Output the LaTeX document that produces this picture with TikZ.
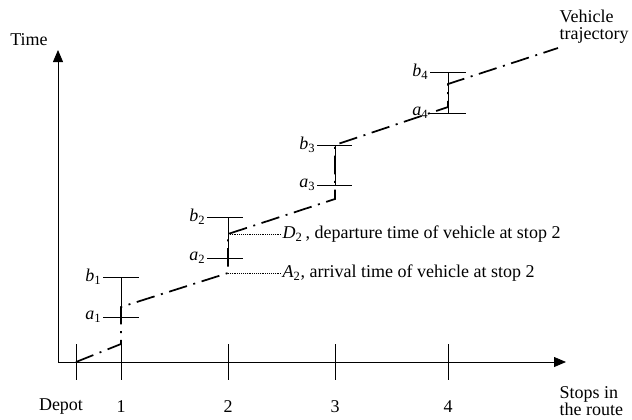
\documentclass[tikz,border=0pt]{standalone}
\usepackage{fontspec}
\setmainfont{Liberation Serif}
\usetikzlibrary{arrows.meta}
\newcommand\tv[2]{\textit{#1}\textsubscript{#2}}

\begin{document}
\begin{tikzpicture}[x=0.75pt, y=-0.75pt,
        axis/.style={-{Triangle[length=9pt,width=7.5pt]}, semithick},
        traj/.style={line width=1.3pt, dash pattern=on 14pt off 5pt on 1.5pt off 5pt},
        bar/.style={semithick},
        lead/.style={densely dotted, thin},
        lbl/.style={font=\fontsize{13.5}{15}\selectfont, inner sep=1pt},
        win/.style={lbl, anchor=east}]
      \useasboundingbox (0,0) rectangle (632,419);
      \coordinate (o) at (58,362);
      \draw[axis] (o) -- (58,50);
      \draw[axis] (o) -- (566,362);
      \node[lbl] (time) at (29,40) {Time};
      \node[lbl] (depot) at (61,407) {Depot};
      \node[lbl] (s1) at (121,407) {1};
      \node[lbl] (s2) at (228,407) {2};
      \node[lbl] (s3) at (335,407) {3};
      \node[lbl] (s4) at (448,407) {4};
      \node[lbl, anchor=west, align=left] (stops) at (558,401) {Stops in\\[-2pt]the route};
      \node[lbl, anchor=west, align=left] (vt) at (558,27) {Vehicle\\[-2pt]trajectory};
      \foreach \x in {76,121,228,335,448}
        \draw[bar] (\x,344) -- (\x,380);
      \draw[bar] (121,277) -- (121,317);
      \draw[bar] (103,277) -- (139,277);
      \draw[bar] (103,317) -- (139,317);
      \draw[bar] (228,217) -- (228,258);
      \draw[bar] (207,217) -- (243,217);
      \draw[bar] (207,258) -- (243,258);
      \draw[bar] (335,145) -- (335,185);
      \draw[bar] (317,145) -- (352,145);
      \draw[bar] (317,185) -- (352,185);
      \draw[bar] (448,72) -- (448,113);
      \draw[bar] (430,72) -- (466,72);
      \draw[bar] (430,113) -- (466,113);
      \node[win] (b1) at (103,277) {\tv{b}{1}};
      \node[win] (a1) at (103,317) {\tv{a}{1}};
      \node[win] (b2) at (207,217) {\tv{b}{2}};
      \node[win] (a2) at (207,258) {\tv{a}{2}};
      \node[win] (b3) at (317,145) {\tv{b}{3}};
      \node[win] (a3) at (317,185) {\tv{a}{3}};
      \node[win] (b4) at (430,72) {\tv{b}{4}};
      \node[win] (a4) at (430,113) {\tv{a}{4}};
      \coordinate (p0) at (76,362);
      \coordinate (A1) at (121,344);
      \coordinate (D1) at (121,307);
      \coordinate (A2) at (228,273);
      \coordinate (D2) at (228,234);
      \coordinate (A3) at (335,199);
      \coordinate (D3) at (335,145);
      \coordinate (A4) at (448,107);
      \coordinate (D4) at (448,84);
      \coordinate (end) at (558,48);
      \draw[traj] (p0) -- (A1) -- (D1) -- (A2) -- (D2) -- (A3) -- (D3) -- (A4) -- (D4) -- (end);
      \node[lbl, anchor=west] (dep) at (281,234) {\tv{D}{2}\,, departure time of vehicle at stop 2};
      \node[lbl, anchor=west] (arr) at (281,273) {\tv{A}{2}, arrival time of vehicle at stop 2};
      \draw[lead] (D2) -- (dep.west);
      \draw[lead] (A2) -- (arr.west);
    \end{tikzpicture}
\end{document}
